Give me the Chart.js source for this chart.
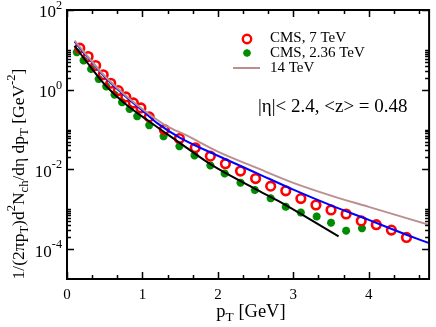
<!DOCTYPE html>
<html>
<head>
<meta charset="utf-8">
<script src="https://cdn.jsdelivr.net/npm/chart.js@4/dist/chart.umd.min.js"></script>
<style>
  html, body { margin: 0; padding: 0; background: #fff; }
  #wrap { width: 436px; height: 327px; }
</style>
</head>
<body>
<div id="wrap"><canvas id="spectrum" width="436" height="327"></canvas></div>
<script>
// CMS 7 TeV (open red circles)
const pt7 = [0.17, 0.28, 0.38, 0.48, 0.58, 0.68, 0.78, 0.88, 0.98, 1.09, 1.29, 1.49, 1.70, 1.90,
  2.10, 2.30, 2.50, 2.70, 2.90, 3.10, 3.30, 3.50, 3.70, 3.90, 4.10, 4.30, 4.50];
const yield7 = [11.0, 6.8, 4.05, 2.37, 1.45, 0.95, 0.657, 0.465, 0.349, 0.208, 0.1, 0.0596, 0.0349, 0.0215,
  0.0139, 0.0091, 0.0059, 0.0038, 0.0029, 0.00185, 0.00128, 0.00096, 0.00076, 0.00051, 0.00041, 0.0003, 0.000196];

// CMS 2.36 TeV (green stars)
const pt236 = [0.13, 0.22, 0.32, 0.42, 0.52, 0.63, 0.73, 0.83, 0.93, 1.09, 1.28, 1.49, 1.69, 1.90,
  2.09, 2.30, 2.49, 2.70, 2.90, 3.10, 3.31, 3.50, 3.70, 3.91];
const yield236 = [8.76, 5.40, 3.29, 1.85, 1.21, 0.75, 0.481, 0.329, 0.215, 0.129, 0.068, 0.0382, 0.0224, 0.0126,
  0.00794, 0.00465, 0.00304, 0.00188, 0.00115, 0.000827, 0.000657, 0.00046, 0.00029, 0.000335];

// model curves
const ptBlue = [0.1, 0.3, 0.5, 0.8, 1.0, 1.2, 1.5, 2.0, 2.5, 3.0, 3.5, 4.0, 4.5, 4.8];
const fitBlue = [16, 5.75, 2.07, 0.62, 0.30, 0.143, 0.062, 0.022, 0.0083, 0.0031, 0.00125, 0.00054, 0.00023, 0.000141];

const ptBlack = [0.1, 0.3, 0.5, 0.8, 1.1, 1.5, 1.86, 2.0, 2.5, 2.8, 3.2, 3.6];
const fitBlack = [12.6, 4.0, 1.35, 0.40, 0.155, 0.0457, 0.0152, 0.0104, 0.0032, 0.00162, 0.00059, 0.00021];

const pt14 = [0.1, 0.3, 0.5, 0.8, 1.1, 1.3, 1.6, 2.0, 2.5, 3.0, 3.5, 4.0, 4.8];
const pred14 = [17, 6.0, 2.2, 0.66, 0.235, 0.13, 0.069, 0.028, 0.0112, 0.0046, 0.0022, 0.00115, 0.000405];

const xTicks = [0, 1, 2, 3, 4];
const yTickExp = [2, 0, -2, -4];

const pts = (xs, ys) => xs.map((x, i) => ({ x: x, y: ys[i] }));

const SERIF = '"Liberation Serif", "DejaVu Serif", serif';

// draw text with sub/superscripts: parts = [[text, mode]], mode 1 sup, -1 sub
function richWidth(ctx, parts, size) {
  let w = 0;
  parts.forEach(([t, m]) => {
    ctx.font = (m ? size * 0.72 : size) + "px " + SERIF;
    w += ctx.measureText(t).width;
  });
  return w;
}
function richText(ctx, parts, x, y, size, align) {
  const w = richWidth(ctx, parts, size);
  let cx = align === "center" ? x - w / 2 : align === "right" ? x - w : x;
  ctx.textAlign = "left";
  ctx.textBaseline = "middle";
  parts.forEach(([t, m]) => {
    ctx.font = (m ? size * 0.72 : size) + "px " + SERIF;
    const dy = m === 1 ? -size * 0.42 : m === -1 ? size * 0.3 : 0;
    ctx.fillText(t, cx, y + dy);
    cx += ctx.measureText(t).width;
  });
}

const decor = {
  id: "decor",
  afterDraw(chart) {
    const { ctx, chartArea: a } = chart;
    const xs = chart.scales.x, ys = chart.scales.y;
    ctx.save();
    ctx.strokeStyle = "#000";
    ctx.fillStyle = "#000";

    // ticks, inward on all four sides
    ctx.lineWidth = 1.5;
    ctx.beginPath();
    for (let v = 0; v <= 4.8; v += 1 / 3) {
      const px = Math.round(xs.getPixelForValue(v)) + 0.5;
      const major = Math.abs(v - Math.round(v)) < 1e-6;
      const len = major ? 7 : 4;
      ctx.moveTo(px, a.bottom); ctx.lineTo(px, a.bottom - len);
      ctx.moveTo(px, a.top); ctx.lineTo(px, a.top + len);
    }
    yTickExp.forEach((e) => {
      const py = Math.round(ys.getPixelForValue(Math.pow(10, e))) + 0.5;
      ctx.moveTo(a.left, py); ctx.lineTo(a.left + 7, py);
      ctx.moveTo(a.right, py); ctx.lineTo(a.right - 7, py);
      for (let k = 2; k <= 10; k++) {
        const v = k * Math.pow(10, e);
        if (v >= 100) continue;
        const q = Math.round(ys.getPixelForValue(v)) + 0.5;
        ctx.moveTo(a.left, q); ctx.lineTo(a.left + 4, q);
        ctx.moveTo(a.right, q); ctx.lineTo(a.right - 4, q);
      }
    });
    ctx.stroke();

    // frame
    ctx.lineWidth = 2;
    ctx.strokeRect(a.left, a.top, a.right - a.left, a.bottom - a.top);

    // tick labels
    xTicks.forEach((v) => {
      richText(ctx, [[String(v), 0]], xs.getPixelForValue(v), a.bottom + 16, 15, "center");
    });
    yTickExp.forEach((e) => {
      const py = ys.getPixelForValue(Math.pow(10, e));
      richText(ctx, [["10", 0], [String(e), 1]], a.left - 5, py + 3, 17, "right");
    });

    // axis titles
    richText(ctx, [["p", 0], ["T", -1], [" [GeV]", 0]], 251, 312, 18.5, "center");
    ctx.save();
    ctx.translate(19, 174);
    ctx.rotate(-Math.PI / 2);
    richText(ctx, [["1/(2\u03c0p", 0], ["T", -1], [")d", 0], ["2", 1], ["N", 0], ["ch", -1],
      ["/d\u03b7 dp", 0], ["T", -1], [" [GeV", 0], ["-2", 1], ["]", 0]], 0, 0, 17.5, "center");
    ctx.restore();

    // legend
    ctx.lineWidth = 2.4;
    ctx.strokeStyle = "#ff0000";
    ctx.beginPath(); ctx.arc(247, 39, 4.2, 0, Math.PI * 2); ctx.stroke();
    ctx.strokeStyle = "#008b00";
    ctx.beginPath();
    for (let i = 0; i < 4; i++) {
      const ang = i * Math.PI / 4;
      ctx.moveTo(247 + 3.8 * Math.cos(ang), 53 + 3.8 * Math.sin(ang));
      ctx.lineTo(247 - 3.8 * Math.cos(ang), 53 - 3.8 * Math.sin(ang));
    }
    ctx.stroke();
    ctx.strokeStyle = "#bc8f8f";
    ctx.lineWidth = 2;
    ctx.beginPath(); ctx.moveTo(233, 68); ctx.lineTo(260, 68); ctx.stroke();
    richText(ctx, [["CMS, 7 TeV", 0]], 270, 38, 15, "left");
    richText(ctx, [["CMS, 2.36 TeV", 0]], 270, 53, 15, "left");
    richText(ctx, [["14 TeV", 0]], 270, 68, 15, "left");

    richText(ctx, [["|\u03b7|< 2.4, <z> = 0.48", 0]], 258, 107, 19, "left");
    ctx.restore();
  }
};

const chart = new Chart(document.getElementById("spectrum"), {
  type: "scatter",
  data: {
    datasets: [
      {
        label: "14 TeV",
        data: pts(pt14, pred14),
        showLine: true,
        borderColor: "#bc8f8f",
        borderWidth: 2,
        pointRadius: 0,
        cubicInterpolationMode: "monotone",
        order: 0,
      },
      {
        label: "fit 7 TeV",
        data: pts(ptBlue, fitBlue),
        showLine: true,
        borderColor: "#0000ff",
        borderWidth: 2,
        pointRadius: 0,
        cubicInterpolationMode: "monotone",
        order: 0,
      },
      {
        label: "fit 2.36 TeV",
        data: pts(ptBlack, fitBlack),
        showLine: true,
        borderColor: "#000000",
        borderWidth: 2,
        pointRadius: 0,
        cubicInterpolationMode: "monotone",
        order: 0,
      },
      {
        label: "CMS, 7 TeV",
        data: pts(pt7, yield7),
        pointStyle: "circle",
        pointRadius: 4.3,
        borderWidth: 2.6,
        borderColor: "#ff0000",
        backgroundColor: "rgba(255,255,255,0)",
        order: 1,
      },
      {
        label: "CMS, 2.36 TeV",
        data: pts(pt236, yield236),
        pointStyle: "star",
        pointRadius: 4,
        borderWidth: 2.6,
        borderColor: "#008b00",
        backgroundColor: "#008b00",
        order: 1,
      },
    ],
  },
  options: {
    responsive: false,
    animation: false,
    layout: { padding: { top: 10, right: 4, left: 0, bottom: 0 } },
    scales: {
      x: {
        type: "linear",
        min: 0,
        max: 4.8,
        grid: { display: false },
        border: { display: false },
        ticks: { display: false },
        afterFit: (s) => { s.height = 48; },
      },
      y: {
        type: "logarithmic",
        min: Math.pow(10, -4.75),
        max: 100,
        grid: { display: false },
        border: { display: false },
        ticks: { display: false },
        afterFit: (s) => { s.width = 67; },
      },
    },
    plugins: {
      legend: { display: false },
      tooltip: { enabled: false },
    },
  },
  plugins: [decor],
});
</script>
</body>
</html>
